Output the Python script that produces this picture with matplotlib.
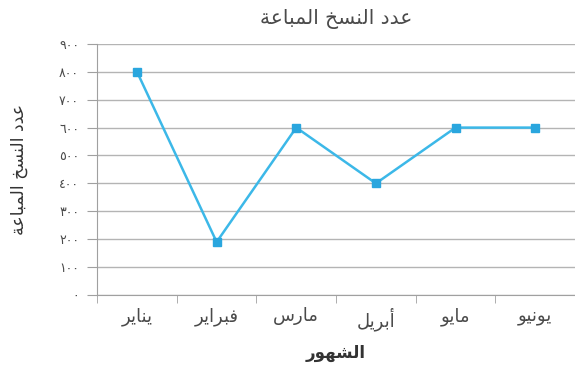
import matplotlib
matplotlib.use("Agg")
import matplotlib.pyplot as plt

# Arabic presentation forms: isolated, final, initial, medial
FORMS = {
    "\u0627": ("\uFE8D", "\uFE8E", None, None),
    "\u0623": ("\uFE83", "\uFE84", None, None),
    "\u0628": ("\uFE8F", "\uFE90", "\uFE91", "\uFE92"),
    "\u0629": ("\uFE93", "\uFE94", None, None),
    "\u062E": ("\uFEA5", "\uFEA6", "\uFEA7", "\uFEA8"),
    "\u062F": ("\uFEA9", "\uFEAA", None, None),
    "\u0631": ("\uFEAD", "\uFEAE", None, None),
    "\u0633": ("\uFEB1", "\uFEB2", "\uFEB3", "\uFEB4"),
    "\u0634": ("\uFEB5", "\uFEB6", "\uFEB7", "\uFEB8"),
    "\u0639": ("\uFEC9", "\uFECA", "\uFECB", "\uFECC"),
    "\u0641": ("\uFED1", "\uFED2", "\uFED3", "\uFED4"),
    "\u0644": ("\uFEDD", "\uFEDE", "\uFEDF", "\uFEE0"),
    "\u0645": ("\uFEE1", "\uFEE2", "\uFEE3", "\uFEE4"),
    "\u0646": ("\uFEE5", "\uFEE6", "\uFEE7", "\uFEE8"),
    "\u0647": ("\uFEE9", "\uFEEA", "\uFEEB", "\uFEEC"),
    "\u0648": ("\uFEED", "\uFEEE", None, None),
    "\u064A": ("\uFEF1", "\uFEF2", "\uFEF3", "\uFEF4"),
}


def ar(text):
    """Shape Arabic letters and reverse them for left-to-right drawing."""
    out = []
    for i, ch in enumerate(text):
        if ch not in FORMS:
            out.append(ch)
            continue
        prev = text[i - 1] if i > 0 else ""
        nxt = text[i + 1] if i + 1 < len(text) else ""
        join_prev = prev in FORMS and FORMS[prev][2] is not None
        join_next = FORMS[ch][2] is not None and nxt in FORMS
        iso, fin, ini, med = FORMS[ch]
        if join_prev and join_next:
            out.append(med)
        elif join_prev:
            out.append(fin)
        elif join_next:
            out.append(ini)
        else:
            out.append(iso)
    return "".join(reversed(out))


def ar_digits(n):
    return "".join(chr(0x0660 + int(d)) for d in str(n))


months = ["يناير", "فبراير", "مارس", "أبريل", "مايو", "يونيو"]
copies_sold = [800, 190, 600, 400, 600, 600]
y_ticks = [0, 100, 200, 300, 400, 500, 600, 700, 800, 900]
title = "عدد النسخ المباعة"
x_title = "الشهور"
y_title = "عدد النسخ المباعة"

plt.rcParams["font.family"] = ["DejaVu Sans"]
text_col = "#4a4a4a"

fig = plt.figure(figsize=(5.75, 3.72), dpi=100)
ax = fig.add_axes([0.169, 0.207, 0.831, 0.675])

x = list(range(len(months)))
ax.plot(x, copies_sold, color="#3cb8e8", linewidth=1.8,
        marker="s", markersize=5.5, markerfacecolor="#2aa6de",
        markeredgecolor="#2aa6de", zorder=3)

ax.set_xlim(-0.5, len(months) - 0.5)
ax.set_ylim(0, 900)
ax.set_yticks(y_ticks)
ax.set_yticklabels([ar_digits(v) for v in y_ticks], fontsize=9, color=text_col)
ax.yaxis.grid(True, color="#b4b4b4", linewidth=1.0)
ax.set_axisbelow(True)

ax.set_xticks(x)
ax.set_xticklabels([ar(m) for m in months], fontsize=13, color=text_col)
ax.set_xticks([i - 0.5 for i in range(len(months) + 1)], minor=True)
ax.tick_params(axis="x", which="major", length=0, pad=9)
ax.tick_params(axis="x", which="minor", length=6, color="#a0a0a0")
ax.tick_params(axis="y", length=7, color="#a0a0a0", pad=6)

for side in ("top", "right"):
    ax.spines[side].set_visible(False)
for side in ("left", "bottom"):
    ax.spines[side].set_color("#a0a0a0")

ax.set_title(ar(title), fontsize=14.5, color=text_col, pad=14)
ax.set_xlabel(ar(x_title), fontsize=12, fontweight="bold", color="#333333", labelpad=9)
ax.set_ylabel(ar(y_title), fontsize=12.5, color="#333333", labelpad=22)

fig.savefig("out.png", dpi=100, facecolor="white")
